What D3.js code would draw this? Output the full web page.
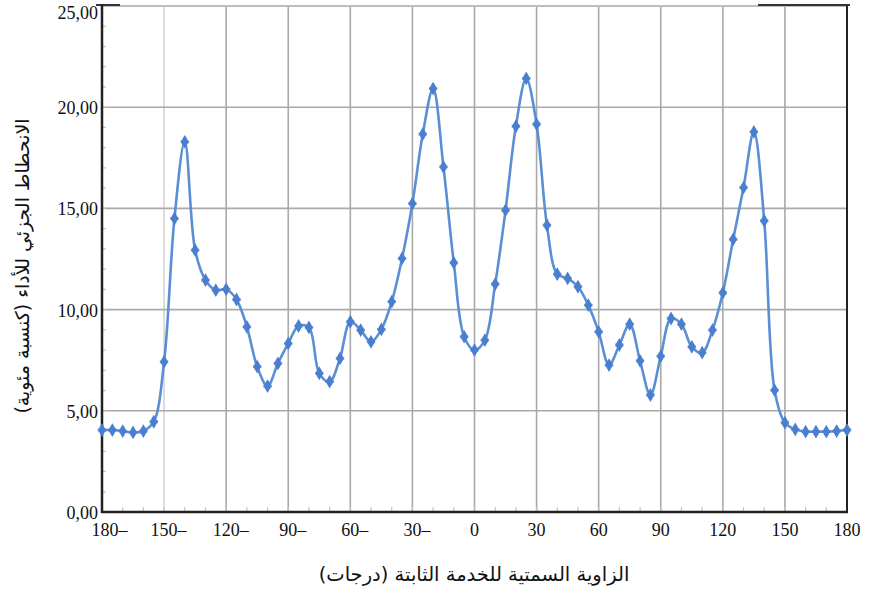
<!DOCTYPE html>
<html>
<head>
<meta charset="utf-8">
<script src="https://cdn.jsdelivr.net/npm/d3@7"></script>
<style>
  body { margin: 0; background: #fff; }
  svg { display: block; }
</style>
</head>
<body>
<div id="chart"></div>
<script>
// angles every 5 degrees, -180 .. 180
const angles = d3.range(-180, 181, 5);

// partial performance degradation (%)
const degradation = [
  4.05, 4.05, 4.00, 3.93, 4.00, 4.46, 7.42, 14.50, 18.29, 12.94,
  11.46, 10.96, 11.00, 10.50, 9.15, 7.18, 6.22, 7.34, 8.33, 9.19,
  9.12, 6.85, 6.44, 7.59, 9.40, 8.99, 8.41, 9.02, 10.39, 12.53,
  15.24, 18.67, 20.92, 17.05, 12.31, 8.66, 8.00, 8.49, 11.26, 14.91,
  19.06, 21.42, 19.16, 14.17, 11.75, 11.54, 11.13, 10.22, 8.90, 7.26,
  8.25, 9.28, 7.47, 5.78, 7.70, 9.56, 9.28, 8.16, 7.87, 8.99,
  10.83, 13.47, 16.03, 18.78, 14.39, 6.02, 4.41, 4.08, 3.97, 3.97,
  3.97, 4.00, 4.05
];

const xTicks = [-180, -150, -120, -90, -60, -30, 0, 30, 60, 90, 120, 150, 180];
const yTicks = [0, 5, 10, 15, 20, 25];

const xTitle = "الزاوية السمتية للخدمة الثابتة (درجات)";
const yTitle = "الانحطاط الجزئي للأداء (كنسبة مئوية)";

const W = 872, H = 591;
const pLeft = 102, pRight = 847, pTop = 6, pBottom = 512;

const svg = d3.select("#chart").append("svg").attr("width", W).attr("height", H);

const x = d3.scaleLinear().domain([-180, 180]).range([pLeft, pRight]);
const y = d3.scaleLinear().domain([0, 25]).range([pBottom, pTop]);

const numFont = "'Liberation Serif', 'Times New Roman', serif";
const arFont = "'DejaVu Sans', 'Noto Sans', sans-serif";

// grille
svg.append("g").selectAll("line").data(xTicks.slice(1, -1)).enter().append("line")
  .attr("x1", d => x(d)).attr("x2", d => x(d))
  .attr("y1", pTop).attr("y2", pBottom)
  .attr("stroke", d => d === -150 ? "#d4d4d4" : "#a9a9a9")
  .attr("stroke-width", 1.6);

svg.append("g").selectAll("line").data(yTicks.slice(1, -1)).enter().append("line")
  .attr("x1", pLeft).attr("x2", pRight)
  .attr("y1", d => y(d)).attr("y2", d => y(d))
  .attr("stroke", "#a9a9a9").attr("stroke-width", 1.6);

// petites graduations
svg.append("g").selectAll("line").data(d3.range(-170, 180, 10)).enter().append("line")
  .attr("x1", d => x(d)).attr("x2", d => x(d))
  .attr("y1", pBottom).attr("y2", pBottom - 5)
  .attr("stroke", "#c4c4c4").attr("stroke-width", 1.2);

svg.append("g").selectAll("line").data(d3.range(1, 25, 1)).enter().append("line")
  .attr("x1", pLeft).attr("x2", pLeft + 4)
  .attr("y1", d => y(d)).attr("y2", d => y(d))
  .attr("stroke", "#c4c4c4").attr("stroke-width", 1.2);

// cadre
svg.append("line").attr("x1", pLeft).attr("x2", pRight).attr("y1", pTop).attr("y2", pTop)
  .attr("stroke", "#bdbdbd").attr("stroke-width", 2);
svg.append("line").attr("x1", pLeft - 6).attr("x2", pLeft + 18).attr("y1", pTop - 1).attr("y2", pTop - 1)
  .attr("stroke", "#333").attr("stroke-width", 2);
svg.append("line").attr("x1", x(137)).attr("x2", pRight + 3).attr("y1", pTop - 1).attr("y2", pTop - 1)
  .attr("stroke", "#333").attr("stroke-width", 2);
svg.append("line").attr("x1", pRight).attr("x2", pRight).attr("y1", pTop).attr("y2", pBottom)
  .attr("stroke", "#222").attr("stroke-width", 2);
svg.append("line").attr("x1", pLeft).attr("x2", pLeft).attr("y1", pTop - 2).attr("y2", pBottom + 1)
  .attr("stroke", "#222").attr("stroke-width", 2.5);
svg.append("line").attr("x1", pLeft - 1).attr("x2", pRight + 1).attr("y1", pBottom).attr("y2", pBottom)
  .attr("stroke", "#222").attr("stroke-width", 2.5);

// étiquettes Y (la plus haute est décalée vers le bas pour rester visible)
svg.append("g").selectAll("text").data(yTicks).enter().append("text")
  .attr("x", pLeft - 4).attr("y", d => d === 25 ? y(d) + 13 : y(d) + 7)
  .attr("text-anchor", "end")
  .attr("font-family", numFont).attr("font-size", 18).attr("fill", "#111")
  .text(d => d.toFixed(2).replace(".", ","));

// étiquettes X : le signe moins s'affiche après le nombre
const xl = svg.append("g");
xTicks.forEach(t => {
  const g = xl.append("text")
    .attr("x", x(t) + (t === -180 ? 3 : 0)).attr("y", pBottom + 24)
    .attr("text-anchor", "middle")
    .attr("font-family", numFont).attr("font-size", 18).attr("fill", "#111")
    .text(Math.abs(t));
  if (t < 0) {
    const bb = g.node().getBBox();
    xl.append("text")
      .attr("x", bb.x + bb.width).attr("y", pBottom + 24)
      .attr("font-family", numFont).attr("font-size", 18).attr("fill", "#111")
      .text("–");
  }
});

// titres
svg.append("text")
  .attr("x", 474).attr("y", 581)
  .attr("text-anchor", "middle").attr("direction", "rtl")
  .attr("font-family", arFont).attr("font-size", 19.5).attr("fill", "#111")
  .text(xTitle);

svg.append("text")
  .attr("transform", "translate(29,266) rotate(-90)")
  .attr("text-anchor", "middle").attr("direction", "rtl")
  .attr("font-family", arFont).attr("font-size", 19).attr("fill", "#111")
  .text(yTitle);

// courbe
const pts = angles.map((a, i) => [a, degradation[i]]);
const line = d3.line()
  .x(d => x(d[0])).y(d => y(d[1]))
  .curve(d3.curveCatmullRom.alpha(0.5));

svg.append("path").datum(pts)
  .attr("d", line)
  .attr("fill", "none")
  .attr("stroke", "#5b8fd5")
  .attr("stroke-width", 2.6)
  .attr("stroke-linejoin", "round");

const diamond = d3.symbol().type(d3.symbolDiamond).size(55);
const cross = d3.symbol().type(d3.symbolCross).size(40);
const mk = svg.append("g").selectAll("g").data(pts).enter().append("g")
  .attr("transform", d => `translate(${x(d[0])},${y(d[1])})`);
mk.append("path").attr("d", diamond).attr("fill", "#4a7fcf");
mk.append("path").attr("d", cross).attr("fill", "#4a7fcf").attr("opacity", 0.7);
</script>
</body>
</html>
